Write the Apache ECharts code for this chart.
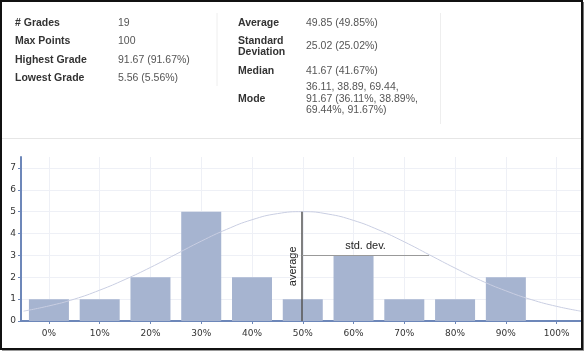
<!DOCTYPE html>
<html>
<head>
<meta charset="utf-8">
<script src="https://cdn.jsdelivr.net/npm/echarts@6/dist/echarts.min.js"></script>
<style>
html, body { margin: 0; padding: 0; background: #fff; }
#chart { width: 585px; height: 353px; }
</style>
</head>
<body>
<div id="chart"></div>
<script>
// histogram bins (percent) and number of grades in each
var binStarts = [0, 10, 20, 30, 40, 50, 60, 70, 80, 90, 100];
var binCounts = [1, 1, 2, 5, 2, 1, 3, 1, 1, 2, 0];

// normal curve, every 5%
var curveX = [-5, 0, 5, 10, 15, 20, 25, 30, 35, 40, 45, 50, 55, 60, 65, 70, 75, 80, 85, 90, 95, 100, 105];
var curveY = [0.45, 0.69, 1.0, 1.41, 1.9, 2.45, 3.05, 3.65, 4.19, 4.63, 4.91, 5.0, 4.89, 4.6, 4.16, 3.62, 3.02, 2.42, 1.86, 1.38, 0.98, 0.67, 0.44];

var average = 49.85;
var stdDev = 25.02;
var curvePeak = 5;
var stdDevHeight = 3;

var yTicks = [0, 1, 2, 3, 4, 5, 6, 7];

// stats table
var leftLabels = ['# Grades', 'Max Points', 'Highest Grade', 'Lowest Grade'];
var leftValues = ['19', '100', '91.67 (91.67%)', '5.56 (5.56%)'];
var leftRows = [23, 41.5, 60, 78.5];
var rightLabels = ['Average', 'Standard\nDeviation', 'Median', 'Mode'];
var rightValues = ['49.85 (49.85%)', '25.02 (25.02%)', '41.67 (41.67%)', '36.11, 38.89, 69.44,\n91.67 (36.11%, 38.89%,\n69.44%, 91.67%)'];
var rightRows = [23, 46.5, 71, 99];

var axisBlue = '#6d87b9';
var gridGrey = '#eef0f6';
var labelFont = '"DejaVu Sans", Verdana, sans-serif';
var tableFont = '"Liberation Sans", Arial, sans-serif';

var myChart = echarts.init(document.getElementById('chart'));

var graphics = [];
function addText(x, y, txt, bold) {
    graphics.push({
        type: 'text',
        x: x,
        y: y,
        style: {
            text: txt,
            fontFamily: tableFont,
            fontSize: 10.5,
            fontWeight: bold ? 'bold' : 'normal',
            fill: bold ? '#333' : '#555',
            verticalAlign: 'middle',
            lineHeight: 11.5
        }
    });
}
for (var i = 0; i < leftLabels.length; i++) {
    addText(15, leftRows[i], leftLabels[i], true);
    addText(118, leftRows[i], leftValues[i], false);
}
for (var j = 0; j < rightLabels.length; j++) {
    addText(238, rightRows[j], rightLabels[j], true);
    addText(306, rightRows[j], rightValues[j], false);
}
// separators
graphics.push({ type: 'line', shape: { x1: 217, y1: 13, x2: 217, y2: 86 }, style: { stroke: '#eeeeee', lineWidth: 1 } });
graphics.push({ type: 'line', shape: { x1: 440.5, y1: 13, x2: 440.5, y2: 124 }, style: { stroke: '#eeeeee', lineWidth: 1 } });
graphics.push({ type: 'line', shape: { x1: 2, y1: 138.5, x2: 582, y2: 138.5 }, style: { stroke: '#e6e6e6', lineWidth: 1 } });
// frame
graphics.push({ type: 'rect', shape: { x: 1, y: 1, width: 581, height: 348 }, style: { fill: 'none', stroke: '#111', lineWidth: 2 }, z: 100 });
graphics.push({ type: 'line', shape: { x1: 583.5, y1: 2, x2: 583.5, y2: 350 }, style: { stroke: '#777', lineWidth: 1 }, z: 100 });
graphics.push({ type: 'line', shape: { x1: 2, y1: 350.5, x2: 584, y2: 350.5 }, style: { stroke: '#999', lineWidth: 1 }, z: 100 });

var option = {
    animation: false,
    graphic: graphics,
    grid: { left: 21, right: 3, top: 157, bottom: 32 },
    xAxis: {
        type: 'value',
        min: -5.5,
        max: 105,
        axisLine: { onZero: false, lineStyle: { color: axisBlue, width: 2 } },
        axisTick: { show: true, customValues: binStarts, length: 3, lineStyle: { color: axisBlue } },
        axisLabel: {
            customValues: binStarts,
            formatter: '{value}%',
            color: '#333',
            fontFamily: labelFont,
            fontSize: 9,
            margin: 8
        },
        splitLine: { show: true, lineStyle: { color: gridGrey } }
    },
    yAxis: {
        type: 'value',
        min: 0,
        max: 7.5,
        axisLine: { show: true, onZero: false, lineStyle: { color: axisBlue, width: 2 } },
        axisTick: { show: true, customValues: yTicks, length: 3, lineStyle: { color: axisBlue } },
        axisLabel: {
            customValues: yTicks,
            color: '#333',
            fontFamily: labelFont,
            fontSize: 9,
            margin: 5
        },
        splitLine: { show: true, lineStyle: { color: gridGrey } }
    },
    series: [
        {
            name: 'grades',
            type: 'bar',
            barWidth: 40,
            itemStyle: { color: '#a6b4d0' },
            data: binStarts.map(function (b, i) { return [b, binCounts[i]]; })
        },
        {
            name: 'normal',
            type: 'line',
            smooth: true,
            showSymbol: false,
            silent: true,
            lineStyle: { color: '#c9cee2', width: 1 },
            data: curveX.map(function (x, i) { return [x, curveY[i]]; }),
            markLine: {
                silent: true,
                symbol: 'none',
                animation: false,
                label: {
                    show: true,
                    position: 'middle',
                    color: '#222',
                    fontFamily: tableFont,
                    fontSize: 11,
                    distance: 4
                },
                data: [
                    [
                        { coord: [average, 0], lineStyle: { color: '#555', width: 1.5, type: 'solid' }, label: { formatter: 'average' } },
                        { coord: [average, curvePeak] }
                    ],
                    [
                        { coord: [average, stdDevHeight], lineStyle: { color: '#999', width: 1, type: 'solid' }, label: { formatter: 'std. dev.' } },
                        { coord: [average + stdDev, stdDevHeight] }
                    ]
                ]
            }
        }
    ]
};

myChart.setOption(option);
</script>
</body>
</html>
